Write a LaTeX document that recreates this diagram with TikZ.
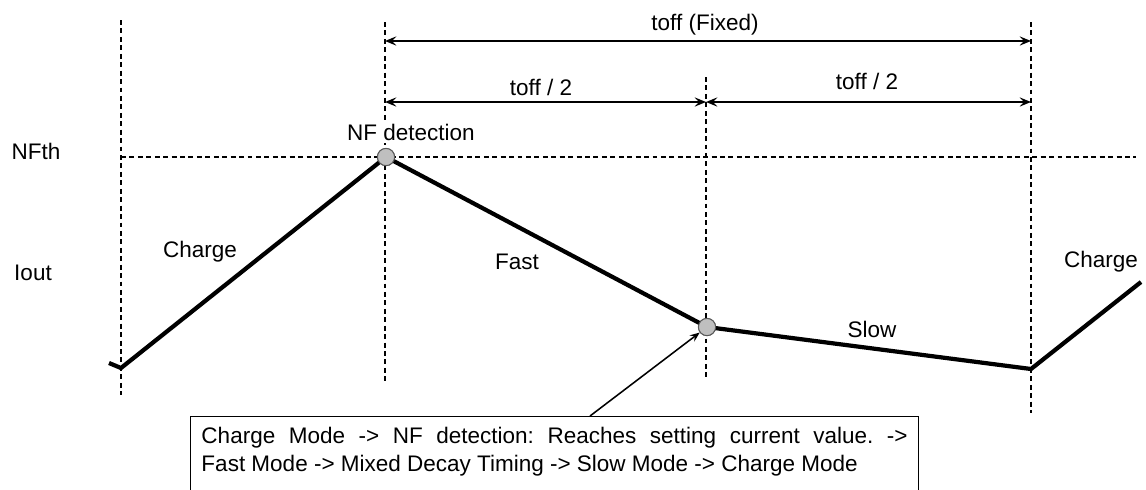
\documentclass[tikz,border=0pt]{standalone}
\usepackage{fontspec}
\setsansfont{Liberation Sans}
\usetikzlibrary{positioning}
\usetikzlibrary{arrows.meta}

\begin{document}
\begin{tikzpicture}[x=0.025cm, y=-0.025cm, >={Stealth[length=8pt, width=6.5pt, inset=3pt]}, font=\sffamily\fontsize{16pt}{19.9pt}\selectfont]
		\tikzstyle{guide}=[draw=black, line width=0.75pt, dash pattern=on 3.5pt off 2.5pt]
		\tikzstyle{wave}=[draw=black, line width=3pt, line join=miter]
		\tikzstyle{dim}=[<->, draw=black, line width=1.7pt]
		\tikzstyle{pointer}=[-{Stealth[length=7pt, width=5.5pt, inset=2.5pt]}, draw=black, line width=1.1pt]
		\tikzstyle{dot}=[circle, fill=black!25, draw=black!65, line width=0.7pt, minimum size=0.43cm, inner sep=0pt]
		\tikzstyle{note}=[draw=black, line width=0.7pt, rectangle, text width=17.65cm, text depth=1.15cm, inner xsep=0.275cm, inner ysep=0.275cm, align=justify, anchor=north west]
		\tikzstyle{annot}=[inner sep=0pt]
		
		\useasboundingbox (0,0) rectangle (1146,489);
		
		% guide lines
		\coordinate (g1t) at (121,20);
		\coordinate (g1b) at (121,395);
		\coordinate (g2t) at (385,22);
		\coordinate (g2b) at (385,383);
		\coordinate (g3t) at (706,77);
		\coordinate (g3b) at (706,380);
		\coordinate (g4t) at (1031,22);
		\coordinate (g4b) at (1031,413);
		\coordinate (thl) at (121,157);
		\coordinate (thr) at (1136,157);
		
		\path[guide] (g1t) -- (g1b);
		\path[guide] (g2t) -- (g2b);
		\path[guide] (g3t) -- (g3b);
		\path[guide] (g4t) -- (g4b);
		\path[guide] (thl) -- (thr);
		
		% toff arrows
		\coordinate (f0) at (385,41);
		\coordinate (f1) at (1031,41);
		\coordinate (h0) at (385,102);
		\coordinate (h1) at (706,102);
		\coordinate (h2) at (1031,102);
		
		\draw[dim] (f0) -- (f1);
		\draw[dim] (h0) -- (h1);
		\draw[dim] (h1) -- (h2);
		
		\node[annot] (tfix) at (705,25) {toff (Fixed)};
		\node[annot] (thalfa) at (541,87) {toff / 2};
		\node[annot] (thalfb) at (867,81) {toff / 2};
		
		% current waveform
		\coordinate (w0) at (109,363);
		\coordinate (w1) at (121,368);
		\coordinate (w4) at (1031,369);
		\coordinate (w5) at (1141,282);
		\node[dot] (nf) at (386,157) {};
		\node[dot] (mix) at (707,327) {};
		
		\draw[wave] (w0) -- (w1) -- (nf.center) -- (mix.center) -- (w4) -- (w5);
		\node[dot] at (nf) {};
		\node[dot] at (mix) {};
		
		\node[annot] (nfth) at (36,151) {NFth};
		\node[annot] (iout) at (33,273) {Iout};
		\node[annot, fill=white, inner ysep=2pt] (nfdet) at (411,132) {NF detection};
		\node[annot] (chg) at (200,252) {Charge};
		\node[annot] (fast) at (517,262) {Fast};
		\node[annot] (slow) at (872,329) {Slow};
		\node[annot] (chgb) at (1101,262) {Charge};
		
		% mode sequence note
		\node[note] (seq) at (190,416) {\frenchspacing Charge Mode -> NF detection: Reaches setting current value. ->\linebreak Fast Mode -> Mixed Decay Timing -> Slow Mode -> Charge Mode};
		\coordinate (tail) at (590,416);
		
		\draw[pointer] (tail) -- (mix);
	\end{tikzpicture}
\end{document}
